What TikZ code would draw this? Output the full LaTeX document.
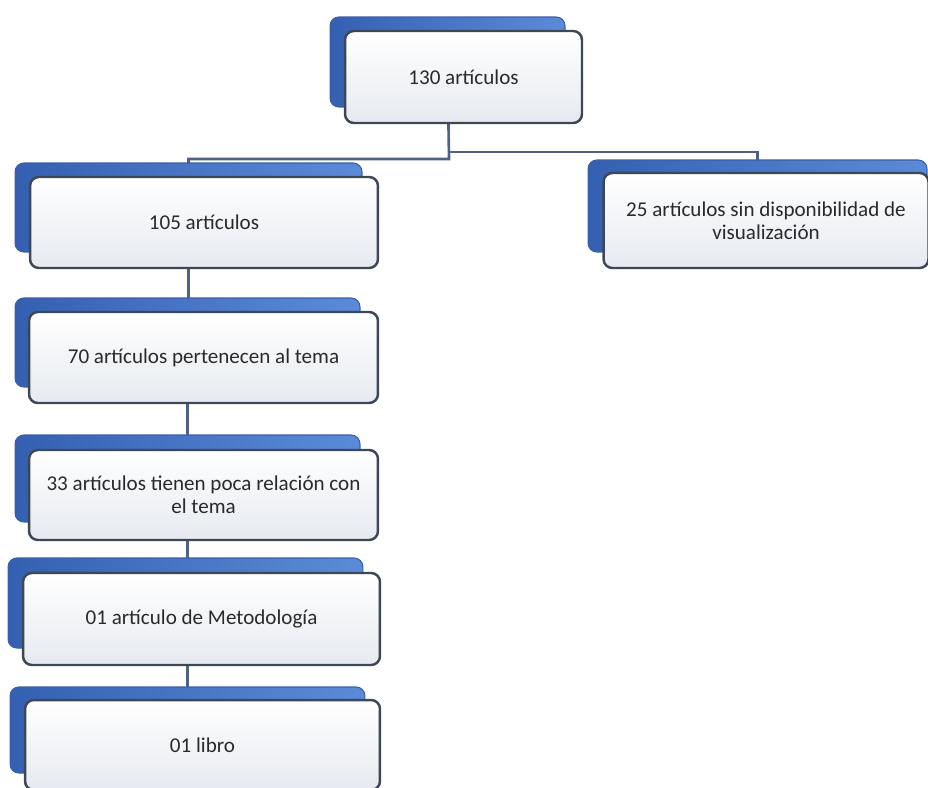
\documentclass[tikz,border=0pt]{standalone}
\usepackage{fontspec}
\setmainfont{Carlito}
\usetikzlibrary{backgrounds}
\definecolor{blueL}{HTML}{3560B2}
\definecolor{blueR}{HTML}{5B8BD8}
\definecolor{backedge}{HTML}{3A5FA8}
\definecolor{frontedge}{HTML}{3E4756}
\definecolor{frontbot}{HTML}{E6EAF0}
\definecolor{textcol}{HTML}{2A2A2A}
\definecolor{linkcol}{HTML}{4F6283}
\tikzset{
  backbox/.style={draw=backedge, line width=0.6pt, rounded corners=5pt,
    left color=blueL, right color=blueR, inner sep=0pt},
  frontbox/.style={draw=frontedge, line width=1.4pt, rounded corners=5pt,
    top color=white, bottom color=frontbot, align=center, inner sep=0pt,
    font=\fontsize{12}{13}\selectfont, text=textcol},
  link/.style={draw=linkcol, line width=1.5pt}
}
\begin{document}
\begin{tikzpicture}[x=0.02cm,y=-0.02cm]
\useasboundingbox (0,0) rectangle (928,787);
\clip (0,0) rectangle (928,787);
% 130
\node[backbox, minimum width=4.70cm, minimum height=1.80cm] (b1) at (447.5,62) {};
\node[frontbox, minimum width=4.74cm, minimum height=1.84cm] (f1) at (463.5,77) {130 artículos};
% 105
\node[backbox, minimum width=6.94cm, minimum height=1.78cm] (b2) at (188.5,207.5) {};
\node[frontbox, minimum width=6.96cm, minimum height=1.82cm] (f2) at (204,222.5) {105 artículos};
% 25
\node[backbox, minimum width=6.78cm, minimum height=1.84cm] (b3) at (757.5,206) {};
\node[frontbox, minimum width=6.50cm, minimum height=1.90cm] (f3) at (766,220.5) {25 artículos sin disponibilidad de\\visualización};
% 70
\node[backbox, minimum width=6.90cm, minimum height=1.78cm] (b4) at (187.5,342.5) {};
\node[frontbox, minimum width=6.98cm, minimum height=1.82cm] (f4) at (203.5,357.5) {70 artículos pertenecen al tema};
% 33
\node[backbox, minimum width=6.90cm, minimum height=1.74cm] (b5) at (187.5,478.5) {};
\node[frontbox, minimum width=6.98cm, minimum height=1.80cm] (f5) at (203.5,495) {33 artículos tienen poca relación con\\el tema};
% 01 Metodologia
\node[backbox, minimum width=7.10cm, minimum height=1.80cm] (b6) at (185.5,603) {};
\node[frontbox, minimum width=7.14cm, minimum height=1.84cm] (f6) at (201.5,619) {01 artículo de Metodología};
% 01 libro
\node[backbox, minimum width=7.10cm, minimum height=1.72cm] (b7) at (187.5,730) {};
\node[frontbox, minimum width=7.10cm, minimum height=1.80cm] (f7) at (202.5,745) {01 libro};
% connectors
\coordinate (jl) at (449,159);
\coordinate (jr) at (449,152);
\begin{scope}[on background layer]
  \draw[link] (b1.center) -- (jl) -| (b2.center);
  \draw[link] (jr) -| (b3.center);
  \draw[link] (b2.center) -- (b2.center |- b4.center);
  \draw[link] (b4.center) -- (b4.center |- b5.center);
  \draw[link] (b5.center) -- (b5.center |- b6.center);
  \draw[link] (b6.center -| b5.center) -- (b5.center |- b7.center);
\end{scope}
\end{tikzpicture}
\end{document}
